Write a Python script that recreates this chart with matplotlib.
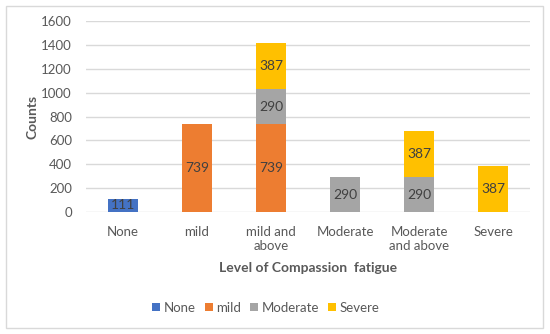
import matplotlib
matplotlib.use("Agg")
import matplotlib.pyplot as plt
import numpy as np
from matplotlib.patches import Rectangle

categories = ["None", "mild", "mild and\nabove", "Moderate", "Moderate\nand above", "Severe"]
none_vals = [111, 0, 0, 0, 0, 0]
mild_vals = [0, 739, 739, 0, 0, 0]
moderate_vals = [0, 0, 290, 290, 290, 0]
severe_vals = [0, 0, 387, 0, 387, 387]
yticks = [0, 200, 400, 600, 800, 1000, 1200, 1400, 1600]

series = [("None", none_vals, "#4472C4"),
          ("mild", mild_vals, "#ED7D31"),
          ("Moderate", moderate_vals, "#A5A5A5"),
          ("Severe", severe_vals, "#FFC000")]

plt.rcParams['font.family'] = ['Lato', 'DejaVu Sans']
text_col = "#595959"

fig = plt.figure(figsize=(5.5, 3.34), dpi=100)
fig.patches.append(Rectangle((6 / 550, 6 / 334), 537 / 550, 322 / 334, transform=fig.transFigure,
                             fill=False, edgecolor="#D9D9D9", linewidth=1))
ax = fig.add_axes([0.156, 0.365, 0.808, 0.572])

x = np.arange(len(categories))
bottom = np.zeros(len(categories))
for name, vals, col in series:
    vals = np.array(vals, dtype=float)
    ax.bar(x, vals, 0.4, bottom=bottom, color=col, label=name, zorder=3)
    for xi, v, b in zip(x, vals, bottom):
        if v > 0:
            ax.text(xi, b + v / 2, str(int(v)), ha="center", va="center",
                    fontsize=10, color="#404040", zorder=4)
    bottom += vals

ax.set_xlim(-0.5, len(categories) - 0.5)
ax.set_ylim(0, 1600)
ax.set_yticks(yticks)
ax.set_xticks(x)
ax.set_xticklabels(categories, linespacing=1.25)
ax.tick_params(axis="both", length=0, labelsize=9.5, colors=text_col)
ax.tick_params(axis="x", pad=10)
ax.tick_params(axis="y", pad=10)
ax.grid(axis="y", color="#D9D9D9", linewidth=1, zorder=0)
for s in ["top", "right", "left", "bottom"]:
    ax.spines[s].set_visible(False)

ax.set_ylabel("Counts", fontsize=10, fontweight="bold", color=text_col, labelpad=2)
ax.set_xlabel("Level of Compassion  fatigue", fontsize=10, fontweight="bold", color=text_col, labelpad=7)

ax.legend(loc="center", bbox_to_anchor=(0.405, -0.5), ncol=4, frameon=False,
          fontsize=9.5, handlelength=0.6, handleheight=0.6, handletextpad=0.25,
          columnspacing=0.7, labelcolor=text_col)

fig.savefig("out.png", dpi=100)
